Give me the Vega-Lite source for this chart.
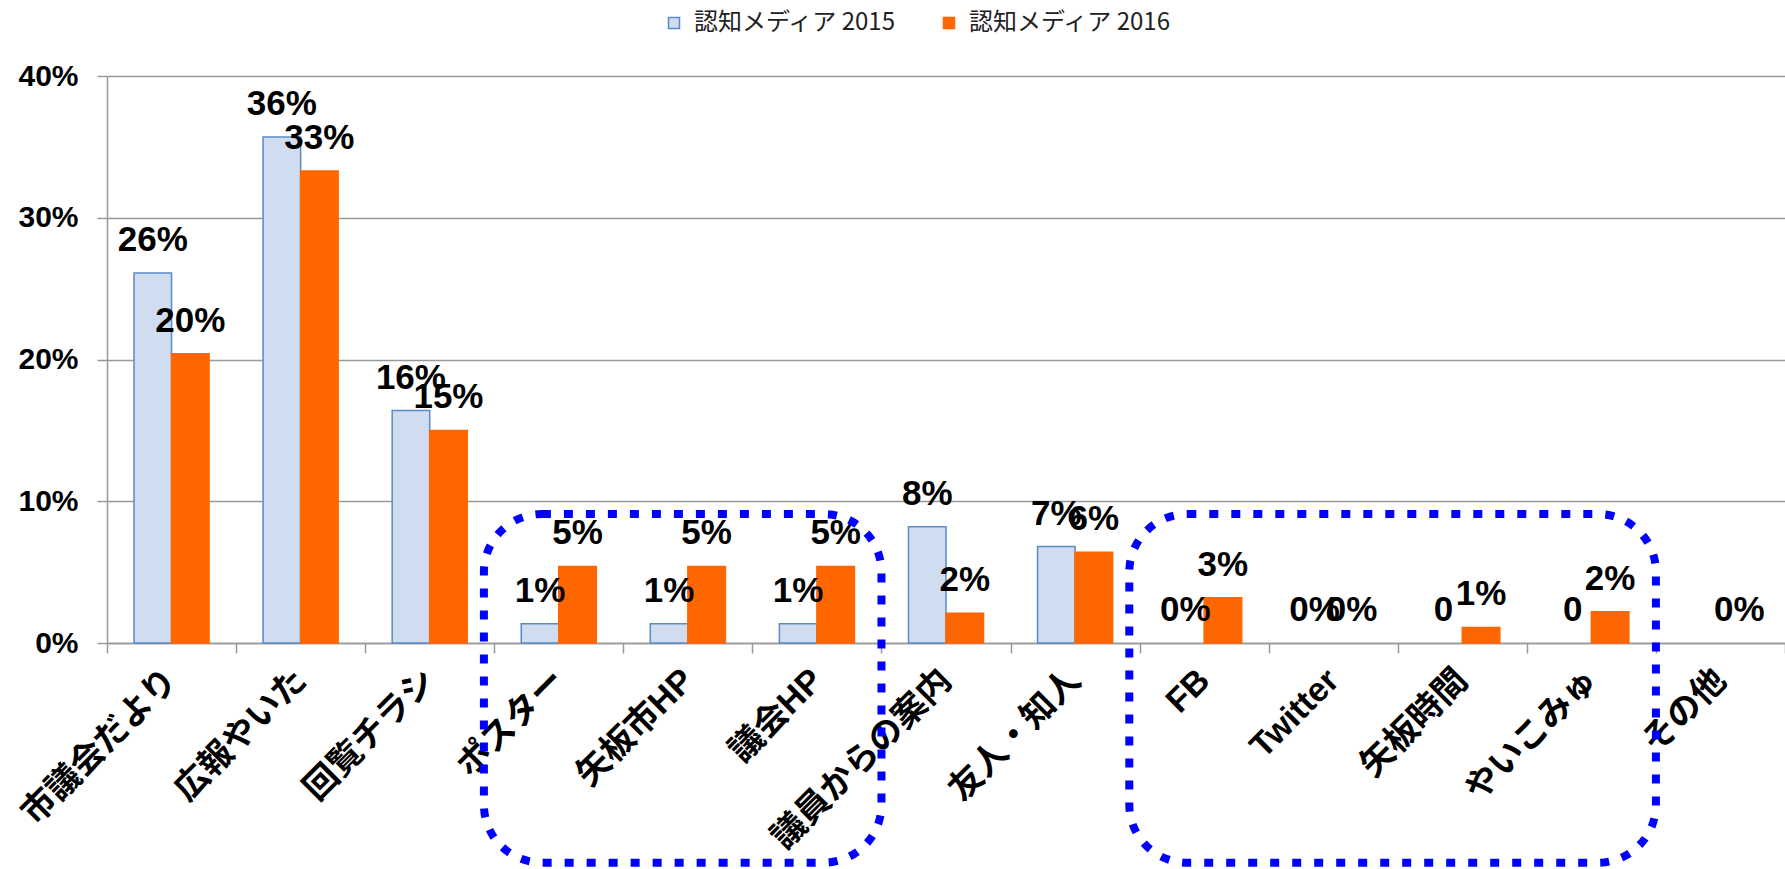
{
  "$schema": "https://vega.github.io/schema/vega-lite/v6.json",
  "width": 1678,
  "height": 567,
  "autosize": {"type": "none"},
  "padding": {"left": 107, "top": 76, "right": 0, "bottom": 226},
  "background": "white",
  "datasets": {
    "bars": [
      {"cat": "市議会だより", "series": "認知メディア 2015", "value": 0.261, "label": "26%"},
      {"cat": "広報やいた", "series": "認知メディア 2015", "value": 0.357, "label": "36%"},
      {"cat": "回覧チラシ", "series": "認知メディア 2015", "value": 0.164, "label": "16%"},
      {"cat": "ポスター", "series": "認知メディア 2015", "value": 0.0135, "label": "1%"},
      {"cat": "矢板市HP", "series": "認知メディア 2015", "value": 0.0135, "label": "1%"},
      {"cat": "議会HP", "series": "認知メディア 2015", "value": 0.0135, "label": "1%"},
      {"cat": "議員からの案内", "series": "認知メディア 2015", "value": 0.082, "label": "8%"},
      {"cat": "友人・知人", "series": "認知メディア 2015", "value": 0.068, "label": "7%"},
      {"cat": "FB", "series": "認知メディア 2015", "value": 0, "label": "0%"},
      {"cat": "Twitter", "series": "認知メディア 2015", "value": 0, "label": "0%"},
      {"cat": "矢板時間", "series": "認知メディア 2015", "value": 0, "label": "0"},
      {"cat": "やいこみゅ", "series": "認知メディア 2015", "value": 0, "label": "0"},
      {"cat": "その他", "series": "認知メディア 2015", "value": 0, "label": ""},
      {"cat": "市議会だより", "series": "認知メディア 2016", "value": 0.204, "label": "20%"},
      {"cat": "広報やいた", "series": "認知メディア 2016", "value": 0.333, "label": "33%"},
      {"cat": "回覧チラシ", "series": "認知メディア 2016", "value": 0.150, "label": "15%"},
      {"cat": "ポスター", "series": "認知メディア 2016", "value": 0.054, "label": "5%"},
      {"cat": "矢板市HP", "series": "認知メディア 2016", "value": 0.054, "label": "5%"},
      {"cat": "議会HP", "series": "認知メディア 2016", "value": 0.054, "label": "5%"},
      {"cat": "議員からの案内", "series": "認知メディア 2016", "value": 0.021, "label": "2%"},
      {"cat": "友人・知人", "series": "認知メディア 2016", "value": 0.064, "label": "6%"},
      {"cat": "FB", "series": "認知メディア 2016", "value": 0.032, "label": "3%"},
      {"cat": "Twitter", "series": "認知メディア 2016", "value": 0, "label": "0%"},
      {"cat": "矢板時間", "series": "認知メディア 2016", "value": 0.011, "label": "1%"},
      {"cat": "やいこみゅ", "series": "認知メディア 2016", "value": 0.022, "label": "2%"},
      {"cat": "その他", "series": "認知メディア 2016", "value": 0, "label": "0%"}
    ],
    "boxes": [
      {"start": "ポスター", "end": "議会HP", "top": 0.091, "bottom": -0.155},
      {"start": "FB", "end": "やいこみゅ", "top": 0.091, "bottom": -0.155}
    ]
  },
  "config": {
    "view": {"stroke": null},
    "axis": {"labelColor": "black", "domainColor": "#999999", "tickColor": "#999999", "gridColor": "#999999"}
  },
  "layer": [
    {
      "data": {"name": "bars"},
      "transform": [{"filter": "datum.value > 0"}],
      "mark": {"type": "bar", "strokeWidth": 1.5},
      "encoding": {
        "x": {
          "field": "cat", "type": "nominal",
          "scale": {"domain": ["市議会だより", "広報やいた", "回覧チラシ", "ポスター", "矢板市HP", "議会HP", "議員からの案内", "友人・知人", "FB", "Twitter", "矢板時間", "やいこみゅ", "その他"], "paddingInner": 0, "paddingOuter": 0},
          "axis": {
            "title": null, "labelAngle": -45, "labelAlign": "right", "labelBaseline": "middle",
            "labelFont": "Liberation Sans, Noto Sans CJK JP", "labelFontSize": 34, "labelFontWeight": "bold",
            "labelPadding": 22, "labelLimit": 500, "labelOverlap": false, "labelBound": false,
            "tickBand": "extent", "tickSize": 10, "tickWidth": 1.5, "domainWidth": 1.5, "grid": false
          }
        },
        "xOffset": {
          "field": "series", "type": "nominal",
          "scale": {"domain": ["認知メディア 2015", "認知メディア 2016"], "paddingInner": 0, "paddingOuter": 0.72}
        },
        "y": {
          "field": "value", "type": "quantitative",
          "scale": {"domain": [0, 0.4], "nice": false, "zero": true},
          "axis": {
            "title": null, "values": [0, 0.1, 0.2, 0.3, 0.4], "format": ".0%",
            "labelFont": "Liberation Sans", "labelFontSize": 30, "labelFontWeight": "bold",
            "labelPadding": 19, "tickSize": 10, "tickWidth": 1.5, "domainWidth": 1.5,
            "grid": true, "gridWidth": 1.3
          }
        },
        "fill": {
          "field": "series", "type": "nominal",
          "scale": {"domain": ["認知メディア 2015", "認知メディア 2016"], "range": ["#d0ddf0", "#ff6600"]},
          "legend": {
            "title": null, "orient": "none", "legendX": 555, "legendY": -65, "direction": "horizontal",
            "symbolType": "square", "symbolSize": 121, "symbolStrokeWidth": 1.5,
            "labelFont": "Noto Sans CJK JP", "labelFontSize": 24, "labelColor": "#222222",
            "labelOffset": 8, "columnPadding": 40, "labelLimit": 400
          }
        },
        "stroke": {
          "field": "series", "type": "nominal",
          "scale": {"domain": ["認知メディア 2015", "認知メディア 2016"], "range": ["#5a8ac6", "#ff6600"]},
          "legend": null
        }
      }
    },
    {
      "data": {"name": "bars"},
      "mark": {"type": "text", "font": "Liberation Sans", "fontSize": 35, "fontWeight": "bold", "baseline": "alphabetic", "align": "center", "dy": -22, "color": "black"},
      "encoding": {
        "x": {"field": "cat", "type": "nominal"},
        "xOffset": {"field": "series", "type": "nominal"},
        "y": {"field": "value", "type": "quantitative"},
        "text": {"field": "label", "type": "nominal"}
      }
    },
    {
      "data": {"name": "boxes"},
      "mark": {"type": "rect", "filled": false, "stroke": "#0000ff", "strokeWidth": 8, "strokeDash": [9, 13], "cornerRadius": 58},
      "encoding": {
        "x": {"field": "start", "type": "nominal", "bandPosition": -0.08},
        "x2": {"field": "end", "bandPosition": 1},
        "y": {"field": "top", "type": "quantitative"},
        "y2": {"field": "bottom"}
      }
    }
  ]
}
